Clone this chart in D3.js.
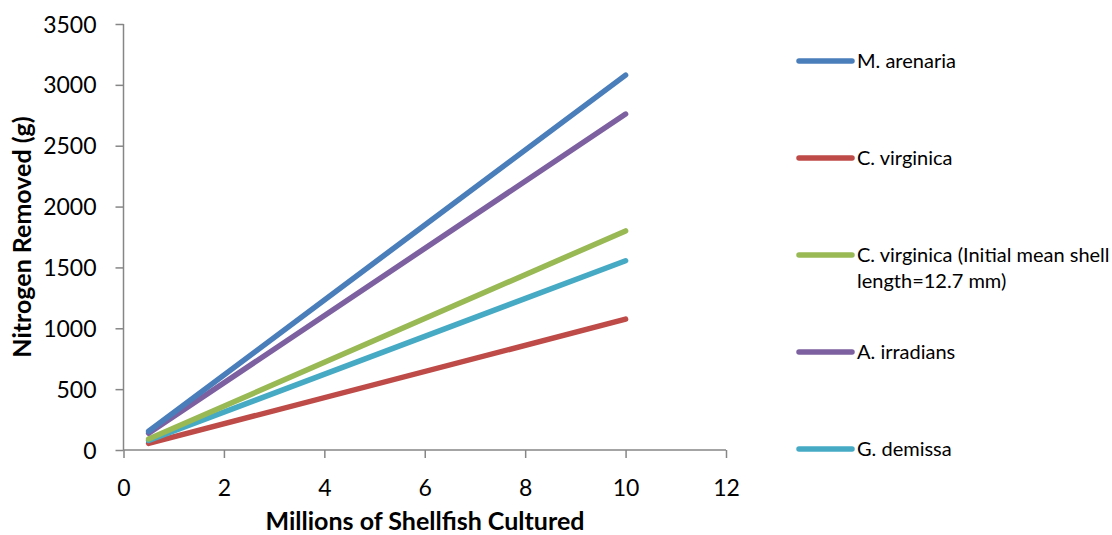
<!DOCTYPE html>
<html><head><meta charset="utf-8">
<script src="https://cdn.jsdelivr.net/npm/d3@7"></script>
<style>body{margin:0;background:#fff}svg{display:block;font-family:Lato,"Open Sans",sans-serif}</style>
</head><body><svg id="c" width="1112" height="535"></svg>
<script>
const xValues = [0.5, 10];
const seriesNames = ["M. arenaria", "C. virginica", "C. virginica (Initial mean shell length=12.7 mm)", "A. irradians", "G. demissa"];
const arenaria = [154, 3080];
const virginica = [54, 1075];
const virginicaInitial = [90, 1800];
const irradians = [138, 2760];
const demissa = [78, 1555];
const seriesColors = ["#4a7ebb", "#be4b48", "#98b954", "#7d60a0", "#46aac5"];
const yTicks = [0, 500, 1000, 1500, 2000, 2500, 3000, 3500];
const xTicks = [0, 2, 4, 6, 8, 10, 12];
const legendLines = [["M. arenaria"], ["C. virginica"], ["C. virginica (Initial mean shell", "length=12.7 mm)"], ["A. irradians"], ["G. demissa"]];

const series = [arenaria, virginica, virginicaInitial, irradians, demissa];
const svg = d3.select("#c");
const x = d3.scaleLinear().domain([0, 12]).range([123.5, 726]);
const y = d3.scaleLinear().domain([0, 3500]).range([450, 24]);
const axisColor = "#868686";

const yAxis = svg.append("g").attr("transform", "translate(123.5,0)")
  .call(d3.axisLeft(y).tickValues(yTicks).tickFormat(d3.format("d")).tickSize(8));
const xAxis = svg.append("g").attr("transform", "translate(0,450)")
  .call(d3.axisBottom(x).tickValues(xTicks).tickFormat(d3.format("d")).tickSize(8));
[yAxis, xAxis].forEach(a => {
  a.selectAll("path").attr("stroke", axisColor).attr("stroke-width", 1.5);
  a.selectAll("line").attr("stroke", axisColor).attr("stroke-width", 1.5);
  a.selectAll("text").attr("fill", "#000").style("font-size", "23px").style("font-family", "Lato, 'Open Sans', sans-serif");
});
yAxis.select("path").attr("d", "M0,450V24");
xAxis.select("path").attr("d", "M123.5,0H726");
yAxis.selectAll("text").attr("x", -27).attr("dy", "0.35em");
xAxis.selectAll("text").attr("y", 46).attr("dy", 0);

const order = [1, 4, 2, 3, 0];
const line = d3.line().x((d, i) => x(xValues[i])).y(d => y(d));
order.forEach(k => {
  svg.append("path").datum(series[k]).attr("d", line)
    .attr("fill", "none").attr("stroke", seriesColors[k])
    .attr("stroke-width", 5.5).attr("stroke-linecap", "round");
});

// legend
const legY = [61, 158, 255, 352, 449];
legendLines.forEach((lines, i) => {
  const g = svg.append("g");
  g.append("line").attr("x1", 799).attr("x2", 852).attr("y1", legY[i]).attr("y2", legY[i])
    .attr("stroke", seriesColors[i]).attr("stroke-width", 5.5).attr("stroke-linecap", "round");
  lines.forEach((t, j) => {
    g.append("text").attr("x", 857).attr("y", legY[i] + j * 26).attr("dy", "0.35em")
      .style("font-size", "20px").attr("fill", "#000").text(t);
  });
});

svg.append("text").attr("x", 425).attr("y", 530).attr("text-anchor", "middle")
  .style("font-size", "25px").style("font-weight", "bold").text("Millions of Shellfish Cultured");
svg.append("text").attr("transform", "translate(31,237) rotate(-90)").attr("text-anchor", "middle")
  .style("font-size", "25px").style("font-weight", "bold").text("Nitrogen Removed (g)");
</script></body></html>
